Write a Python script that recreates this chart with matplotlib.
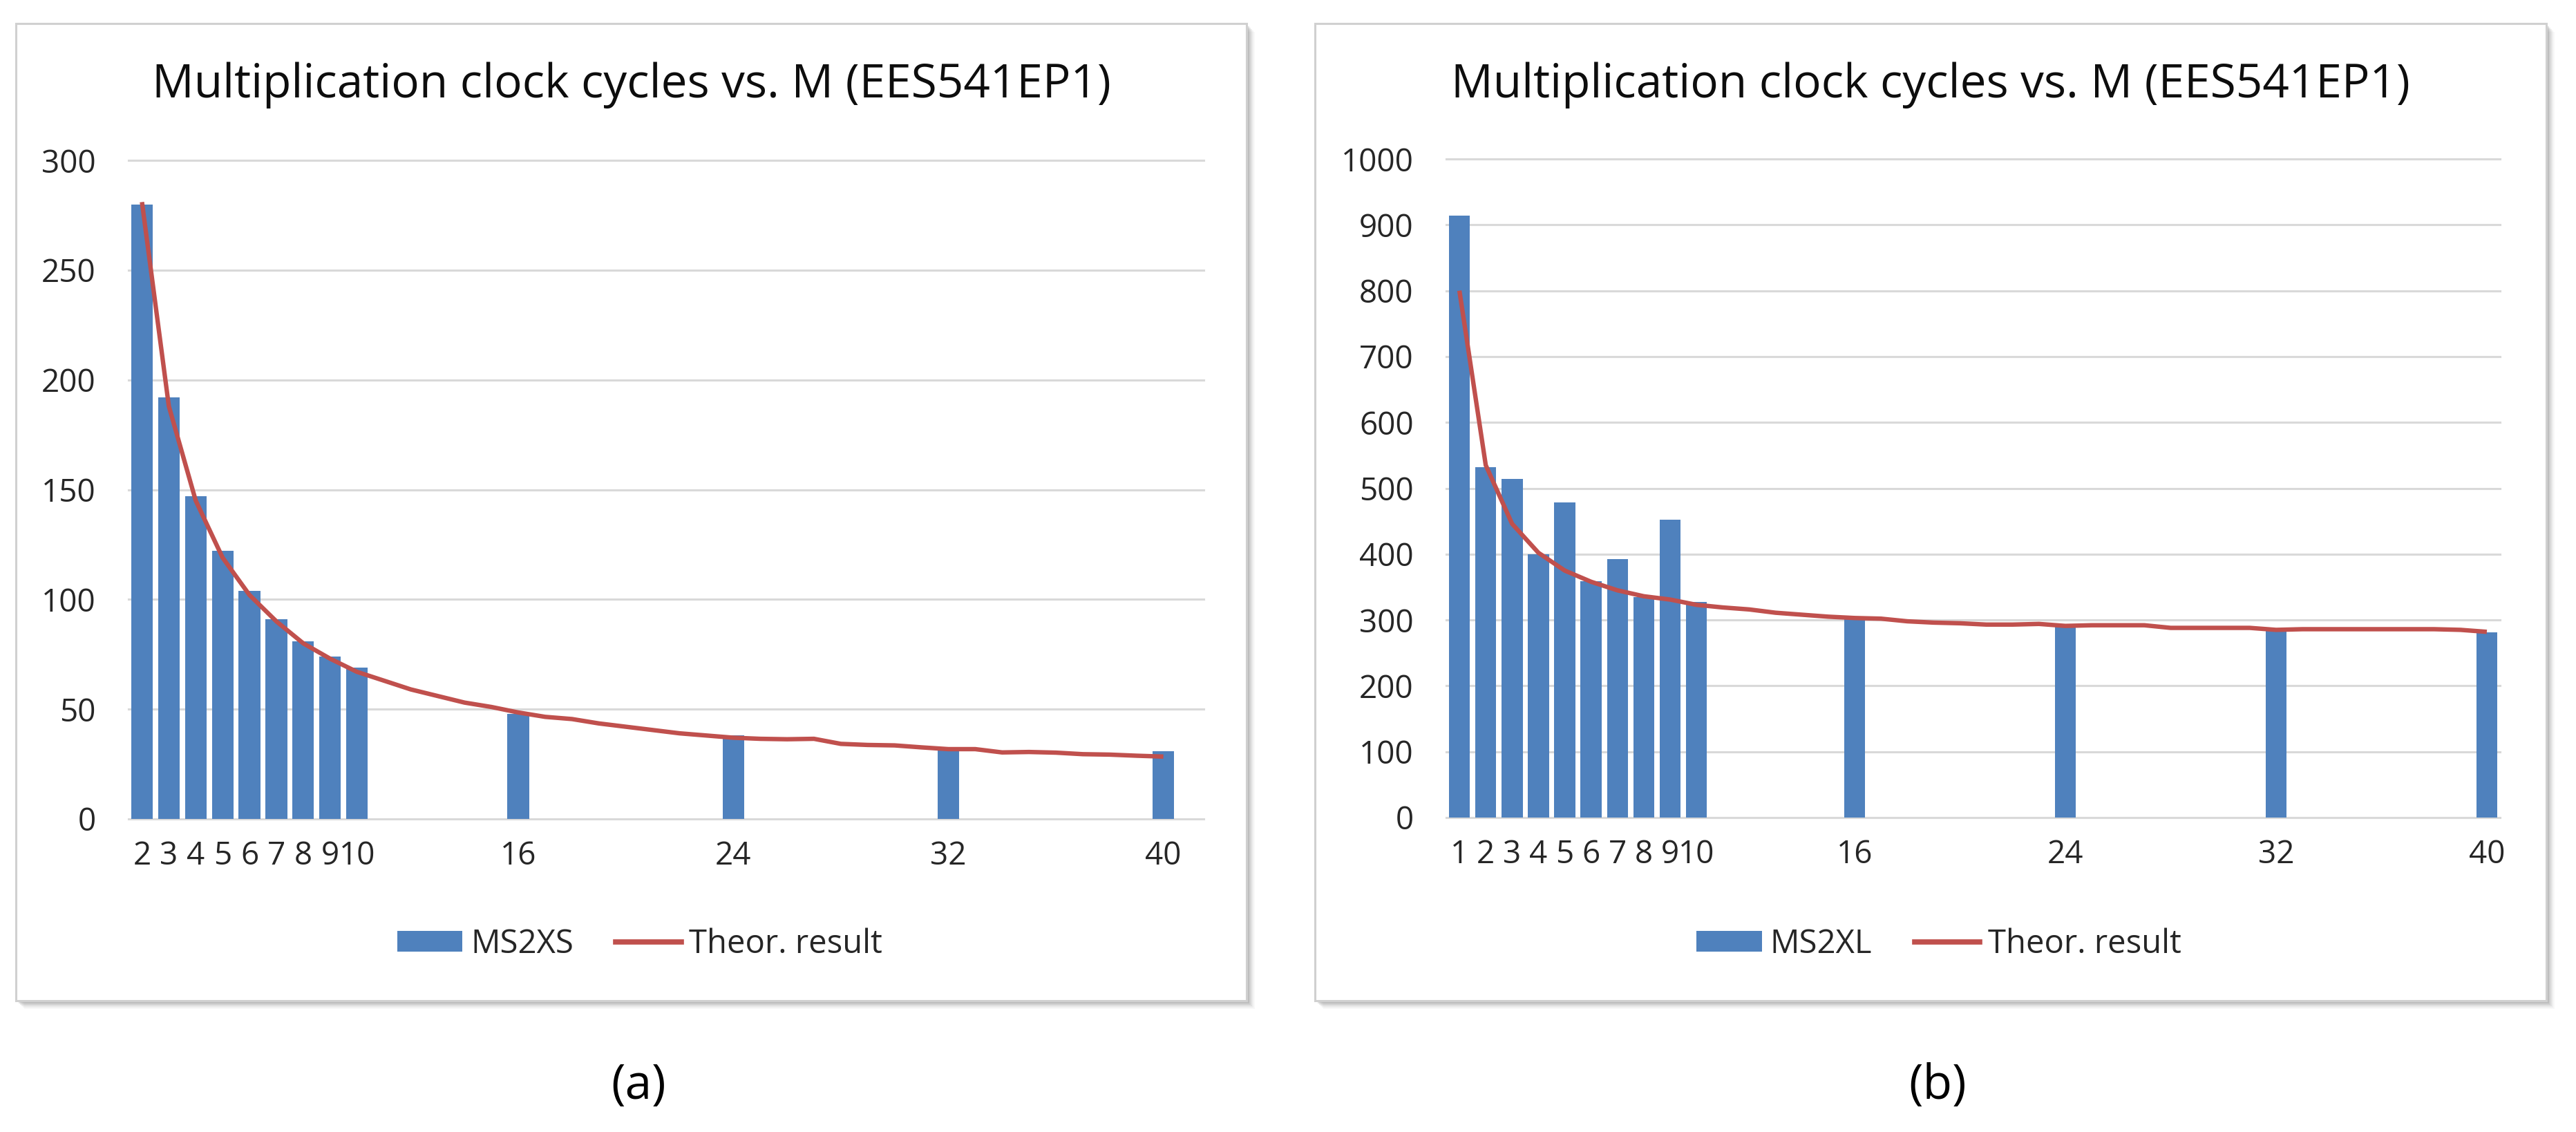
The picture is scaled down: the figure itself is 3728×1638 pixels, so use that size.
import matplotlib
matplotlib.use("Agg")
import matplotlib.pyplot as plt
from matplotlib.patches import Rectangle, Patch
from matplotlib.lines import Line2D
from matplotlib import font_manager

# ---------------- data ----------------
title_text = "Multiplication clock cycles vs. M (EES541EP1)"

a_bar_M = [2, 3, 4, 5, 6, 7, 8, 9, 10, 16, 24, 32, 40]
a_bar_vals = [280, 192, 147, 122, 104, 91, 81, 74, 69, 48, 38, 32, 31]
a_theory_M = list(range(2, 41))
a_theory_vals = [281, 188, 145, 119, 102, 90, 80, 73, 67, 63, 59, 56, 53, 51,
                 48.5, 46.5, 45.5, 43.5, 42, 40.5, 39, 38, 37, 36.5, 36.3, 36.5,
                 34.2, 33.7, 33.5, 32.6, 31.8, 31.8, 30.3, 30.5, 30.2, 29.5,
                 29.3, 28.8, 28.4]
a_ticks = [2, 3, 4, 5, 6, 7, 8, 9, 10, 16, 24, 32, 40]
a_bar_label = "MS2XS"

b_bar_M = [1, 2, 3, 4, 5, 6, 7, 8, 9, 10, 16, 24, 32, 40]
b_bar_vals = [914, 532, 514, 400, 479, 359, 392, 335, 452, 327, 303, 290, 285, 281]
b_theory_M = list(range(1, 41))
b_theory_vals = [800, 535, 446, 402, 375, 358, 345, 336, 331, 323,
                 319, 316, 311, 308, 305, 303, 302, 298, 296, 295,
                 293, 293, 294, 291, 292, 292, 292, 288, 288, 288,
                 288, 285, 286, 286, 286, 286, 286, 286, 285, 282]
b_ticks = [1, 2, 3, 4, 5, 6, 7, 8, 9, 10, 16, 24, 32, 40]
b_bar_label = "MS2XL"

line_label = "Theor. result"
captions = ["(a)", "(b)"]

# ---------------- style ----------------
W, H, DPI = 3728, 1638, 100
BLUE = "#4F81BD"
RED = "#C0504D"
GRID = "#D9D9D9"
TXT = "#262626"

available = {f.name for f in font_manager.fontManager.ttflist}
def pick(*names):
    for n in names:
        if n in available:
            return n
    return "DejaVu Sans"
FONT = pick("Open Sans", "Lato", "DejaVu Sans")
plt.rcParams["font.family"] = [FONT, "DejaVu Sans"]

fig = plt.figure(figsize=(W / DPI, H / DPI), dpi=DPI)
fig.patch.set_facecolor("white")

def fx(x):
    return x / W

def fy(y):
    return 1 - y / H

def frame(x0, y0, x1, y1):
    # soft shadow to the bottom-right
    for off, alpha in [(12, 0.05), (10, 0.08), (8, 0.12), (6, 0.16), (4, 0.22)]:
        fig.add_artist(Rectangle((fx(x0 + off), fy(y1 + off)), (x1 - x0) / W, (y1 - y0) / H,
                                 transform=fig.transFigure, facecolor="#808080",
                                 edgecolor="none", alpha=alpha, zorder=-5))
    fig.add_artist(Rectangle((fx(x0), fy(y1)), (x1 - x0) / W, (y1 - y0) / H,
                             transform=fig.transFigure, facecolor="white",
                             edgecolor="#D0D0D0", linewidth=2.2, zorder=-4))

frame(23, 34, 1804, 1448)
frame(1903, 34, 3685, 1448)

def panel(rect_px, bar_M, bar_vals, th_M, th_vals, ticks, ymax, ystep, xlim,
          bar_label, cx, caption):
    x0, y0, x1, y1 = rect_px
    ax = fig.add_axes([fx(x0), fy(y1), (x1 - x0) / W, (y1 - y0) / H])
    ax.set_facecolor("none")
    ax.bar(bar_M, bar_vals, width=0.8, color=BLUE, zorder=2)
    ax.plot(th_M, th_vals, color=RED, lw=4.6, zorder=3, solid_joinstyle="round",
            solid_capstyle="butt")
    ax.set_xlim(*xlim)
    ax.set_ylim(0, ymax)
    ax.set_yticks(list(range(0, ymax + 1, ystep)))
    ax.set_xticks(ticks)
    ax.set_xticklabels([str(t) for t in ticks])
    for s in ax.spines.values():
        s.set_visible(False)
    ax.yaxis.grid(True, color=GRID, lw=2.2)
    for gl in ax.get_ygridlines():
        gl.set_clip_on(False)
    ax.set_axisbelow(True)
    ax.tick_params(axis="y", length=0, pad=34, labelsize=33, labelcolor=TXT)
    ax.tick_params(axis="x", length=0, pad=22, labelsize=33, labelcolor=TXT)

    t = fig.text(fx(cx), fy(123), title_text, ha="center", va="center",
                 fontsize=44, color="#0D0D0D")
    handles = [Patch(facecolor=BLUE, edgecolor="none"),
               Line2D([], [], color=RED, lw=5.5)]
    fig.legend(handles, [bar_label, line_label], loc="center",
               bbox_to_anchor=(fx(cx + 12), fy(1366)), ncol=2, frameon=False,
               fontsize=34, handlelength=2.0, handleheight=0.6,
               handletextpad=0.25, columnspacing=1.3, labelcolor=TXT)
    fig.text(fx(cx + 10), fy(1572), caption, ha="center", va="center",
             fontsize=50, color="black")
    return ax, t

axA, tA = panel((186, 232, 1742, 1185), a_bar_M, a_bar_vals, a_theory_M, a_theory_vals,
                a_ticks, 300, 50, (1.5, 41.5), a_bar_label, 914, captions[0])
axB, tB = panel((2093, 230, 3618, 1183), b_bar_M, b_bar_vals, b_theory_M, b_theory_vals,
                b_ticks, 1000, 100, (0.5, 40.5), b_bar_label, 2794, captions[1])

# fit title width to the reference (~1390 px)
fig.canvas.draw()
r = fig.canvas.get_renderer()
for t in (tA, tB):
    w = t.get_window_extent(r).width
    t.set_fontsize(44 * 1390 / w)

fig.savefig("out.png", dpi=DPI, facecolor="white")
